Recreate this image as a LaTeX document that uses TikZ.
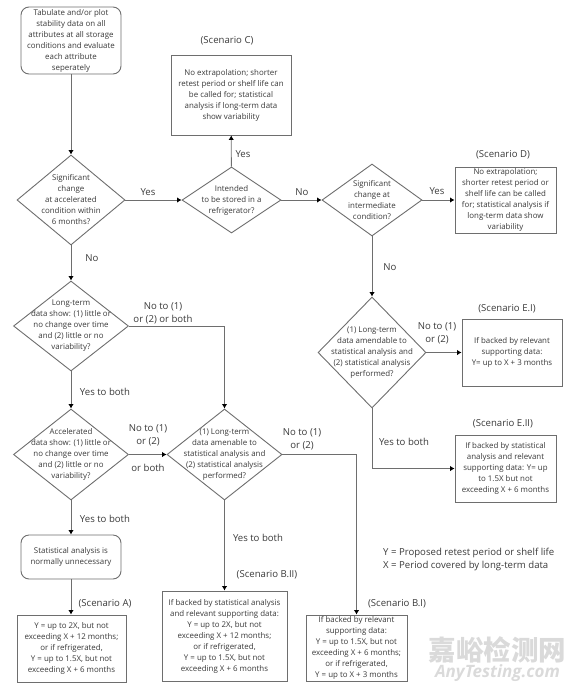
\documentclass[tikz,border=0pt]{standalone}
\usepackage{fontspec}
\setmainfont{Open Sans}
\newfontfamily\cjkwide{Noto Sans CJK SC}
\usetikzlibrary{shapes.geometric,arrows.meta,positioning}
\definecolor{linegray}{HTML}{6E6E6E}
\definecolor{textgray}{HTML}{3A3A3A}
\definecolor{markgray}{HTML}{DADADA}
\tikzset{
  bodytext/.style={font=\fontsize{7.9}{11}\selectfont,text=textgray,align=center},
  rectbox/.style={draw=linegray,fill=white,line width=0.9pt,bodytext,inner sep=0pt},
  roundbox/.style={rectbox,rounded corners=8pt},
  decision/.style={diamond,draw=linegray,fill=white,line width=0.9pt,inner sep=0pt},
  flow/.style={-{Latex[length=4.5pt,width=5.5pt,black]},draw=linegray,line width=0.9pt},
  tag/.style={font=\fontsize{9.6}{13}\selectfont,text=textgray,align=center,inner sep=0pt},
}
\begin{document}
\begin{tikzpicture}[x=1pt,y=-1pt]
  \useasboundingbox (0,0) rectangle (579,691);
  \node[roundbox,minimum width=100pt,minimum height=67pt] (start) at (71,40.5) {Tabulate and/or plot\\stability data on all\\attributes at all storage\\conditions and evaluate\\each attribute\\seperately};
  \node[decision,minimum width=108pt,minimum height=90pt,label={[bodytext]center:{Significant\\change\\at accelerated\\condition within\\6 months?}}] (accel) at (71,200) {};
  \node[decision,minimum width=99pt,minimum height=66pt,label={[bodytext]center:{Intended\\to be stored in a\\refrigerator?}}] (fridge) at (231.5,200) {};
  \node[decision,minimum width=100pt,minimum height=72pt,label={[bodytext]center:{Significant\\change at\\intermediate\\condition?}}] (interm) at (372,200) {};
  \node[decision,minimum width=108pt,minimum height=111pt,label={[bodytext]center:{(1) Long-term\\data amendable to\\statistical analysis and\\(2) statistical analysis\\performed?}}] (amendE) at (372,352.5) {};
  \node[decision,minimum width=115pt,minimum height=90pt,label={[bodytext]center:{Long-term\\data show: (1) little or\\no change over time\\and (2) little or no\\variability?}}] (longterm) at (71,326) {};
  \node[decision,minimum width=115pt,minimum height=91pt,label={[bodytext]center:{Accelerated\\data show: (1) little or\\no change over time\\and (2) little or no\\variability?}}] (acceldata) at (71,454.5) {};
  \node[decision,minimum width=115pt,minimum height=91pt,label={[bodytext]center:{(1) Long-term\\data amenable to\\statistical analysis and\\(2) statistical analysis\\performed?}}] (amendB) at (224.5,454.5) {};

  \node[rectbox,minimum width=120pt,minimum height=80pt] (scenC) at (231,95) {No extrapolation; shorter\\retest period or shelf life can\\be called for; statistical\\analysis if long-term data\\show variability};
  \node[rectbox,minimum width=101pt,minimum height=66pt] (scenD) at (505.5,200) {No extrapolation;\\shorter retest period or\\shelf life can be called\\for; statistical analysis if\\long-term data show\\variability};
  \node[rectbox,minimum width=100pt,minimum height=67pt] (scenEi) at (512,352.5) {If backed by relevant\\supporting data:\\Y= up to X + 3 months};
  \node[rectbox,minimum width=101pt,minimum height=67pt] (scenEii) at (505.5,468.5) {If backed by statistical\\analysis and relevant\\supporting data: Y= up\\to 1.5X but not\\exceeding X + 6 months};
  \node[roundbox,minimum width=100pt,minimum height=44pt] (noneed) at (71,557) {Statistical analysis is\\normally unnecessary};
  \node[rectbox,minimum width=109pt,minimum height=67pt] (scenA) at (71.5,648.5) {Y = up to 2X, but not\\exceeding X + 12 months;\\or if refrigerated,\\Y = up to 1.5X, but not\\exceeding X + 6 months};
  \node[rectbox,minimum width=125pt,minimum height=90pt] (scenBii) at (224.5,636) {If backed by statistical analysis\\and relevant supporting data:\\Y = up to 2X, but not\\exceeding X + 12 months;\\or if refrigerated,\\Y = up to 1.5X, but not\\exceeding X + 6 months};
  \node[rectbox,minimum width=101pt,minimum height=66pt] (scenBi) at (356.5,648) {If backed by relevant\\supporting data:\\Y = up to 1.5X, but not\\exceeding X + 6 months;\\or if refrigerated,\\Y = up to X + 3 months};

  \draw[flow] (start) -- (accel);
  \draw[flow] (accel) -- (fridge);
  \draw[flow] (fridge) -- (scenC);
  \draw[flow] (fridge) -- (interm);
  \draw[flow] (interm) -- (scenD);
  \draw[flow] (interm) -- (amendE);
  \draw[flow] (amendE.east) -- (scenEi.west);
  \draw[flow] (amendE.south) |- (scenEii.west);
  \draw[flow] (accel) -- (longterm);
  \draw[flow] (longterm) -- (acceldata);
  \draw[flow] (longterm.east) -| (amendB.north);
  \draw[flow] (acceldata) -- (amendB);
  \draw[flow] (acceldata) -- (noneed);
  \draw[flow] (noneed) -- (scenA.north-|noneed);
  \draw[flow] (amendB) -- (scenBii);
  \draw[flow] (amendB.east) -| (scenBi.north);

  \node[tag] (labC) at (227,41) {(Scenario C)};
  \node[tag] (labD) at (503,155) {(Scenario D)};
  \node[tag] (labEi) at (507,309) {(Scenario E.I)};
  \node[tag] (labEii) at (503,424) {(Scenario E.II)};
  \node[tag] (labA) at (105,604) {(Scenario A)};
  \node[tag] (labBii) at (267,575) {(Scenario B.II)};
  \node[tag] (labBi) at (397,604) {(Scenario B.I)};

  \node[tag] (yesA) at (148,192) {Yes};
  \node[tag] (noA) at (302,192) {No};
  \node[tag] (yesB) at (437,191) {Yes};
  \node[tag] (yesC) at (243,154) {Yes};
  \node[tag] (noB) at (92,258) {No};
  \node[tag] (noC) at (390,267) {No};
  \node[tag] (orA) at (163,313) {No to (1)\\or (2) or both};
  \node[tag] (orB) at (437,333.5) {No to (1)\\or (2)};
  \node[tag] (orC) at (148,435.5) {No to (1)\\or (2)};
  \node[tag] (orD) at (148,468) {or both};
  \node[tag] (orE) at (302,439.5) {No to (1)\\or (2)};
  \node[tag] (bothA) at (105,392) {Yes to both};
  \node[tag] (bothB) at (105,519) {Yes to both};
  \node[tag] (bothC) at (258,538) {Yes to both};
  \node[tag] (bothD) at (404,442) {Yes to both};
  \node[tag,align=left,anchor=west] (legend) at (383,559.5) {Y = Proposed retest period or shelf life\\X = Period covered by long-term data};

  \node[inner sep=0pt,text=markgray,font=\cjkwide\bfseries\fontsize{27.5}{27.5}\selectfont] (markcn) at (497.5,650) {嘉峪检测网};
  \node[inner sep=0pt,text=markgray,font=\itshape\bfseries\fontsize{17}{17}\selectfont] (markan) at (497.5,673.5) {AnyTesting.com};
\end{tikzpicture}
\end{document}
